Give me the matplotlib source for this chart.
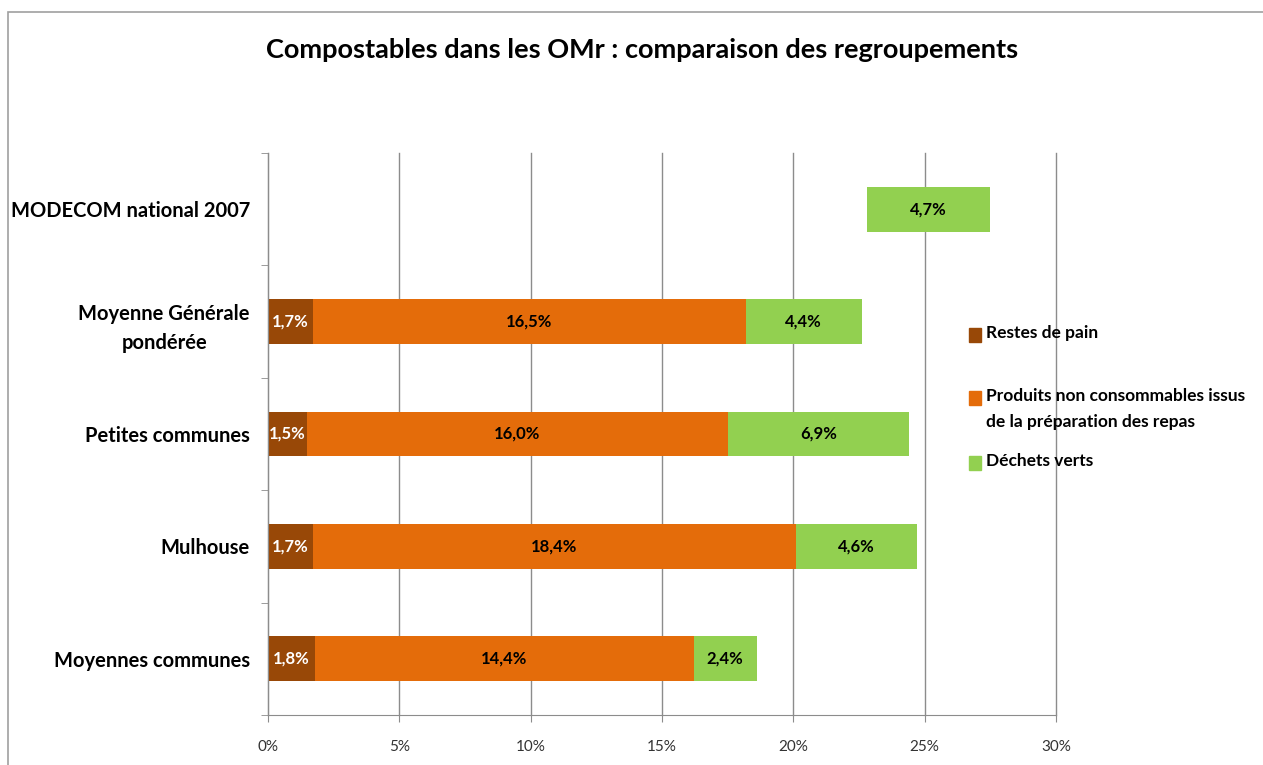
import matplotlib
matplotlib.use("Agg")
import matplotlib.pyplot as plt
from matplotlib.patches import Rectangle

plt.rcParams['font.family'] = ['Lato', 'DejaVu Sans']

# data (bottom -> top)
categories = ["Moyennes communes", "Mulhouse", "Petites communes",
              "Moyenne Générale\npondérée", "MODECOM national 2007"]
pain = [1.8, 1.7, 1.5, 1.7, 0.0]
produits = [14.4, 18.4, 16.0, 16.5, 0.0]
non_detaille = [0.0, 0.0, 0.0, 0.0, 22.8]   # segment non représenté (MODECOM)
dechets_verts = [2.4, 4.6, 6.9, 4.4, 4.7]
xticks = [0, 5, 10, 15, 20, 25, 30]
series_names = ["Restes de pain",
                "Produits non consommables issus\nde la préparation des repas",
                "Déchets verts"]

c_pain = "#984807"
c_prod = "#E46C0A"
c_vert = "#92D050"
grid_col = "#8C8C8C"
W, H = 1263, 765

fig = plt.figure(figsize=(W / 100, H / 100), dpi=100)
ax = fig.add_axes([268 / W, 1 - 715 / H, 788 / W, 562 / H])

# chart frame (cropped on right/bottom)
fig.patches.append(Rectangle((8 / W, -0.05), 1.2, 1 - 12 / H + 0.05,
                             transform=fig.transFigure, fill=False,
                             edgecolor="#A0A0A0", lw=1.2))

y = list(range(len(categories)))
h = 0.4
ax.set_axisbelow(True)

left = [0.0] * len(y)
b1 = ax.barh(y, pain, height=h, left=left, color=c_pain)
left = [l + v for l, v in zip(left, pain)]
b2 = ax.barh(y, produits, height=h, left=left, color=c_prod)
left = [l + v for l, v in zip(left, produits)]
ax.barh(y, non_detaille, height=h, left=left, color="none")
left = [l + v for l, v in zip(left, non_detaille)]
b3 = ax.barh(y, dechets_verts, height=h, left=left, color=c_vert)

def fmt(v):
    return f"{v:.1f}".replace(".", ",") + "%"

for bars, vals, col in [(b1, pain, "white"), (b2, produits, "black"), (b3, dechets_verts, "black")]:
    for rect, v in zip(bars, vals):
        if v > 0:
            ax.text(rect.get_x() + rect.get_width() / 2, rect.get_y() + rect.get_height() / 2,
                    fmt(v), ha="center", va="center", color=col,
                    fontsize=12, fontweight="bold")

ax.set_xlim(0, 30)
ax.set_ylim(-0.5, len(categories) - 0.5)
ax.set_xticks(xticks)
ax.set_xticklabels([f"{t}%" for t in xticks], fontsize=11, color="#333333")
ax.set_yticks(y)
ax.set_yticklabels(categories, fontsize=14.5, fontweight="bold", linespacing=1.6)
ax.set_yticks([i - 0.5 for i in range(len(categories) + 1)], minor=True)
ax.tick_params(axis="y", which="major", length=0, pad=13)
ax.tick_params(axis="y", which="minor", length=5, color=grid_col, direction="out")
ax.tick_params(axis="x", length=5, color=grid_col, pad=13)
for t in ax.get_yticklabels():
    t.set_multialignment("center")

ax.grid(axis="x", color=grid_col, lw=1)
for gl in ax.get_xgridlines():
    gl.set_clip_on(False)
for s in ["top", "right"]:
    ax.spines[s].set_visible(False)
for s in ["left", "bottom"]:
    ax.spines[s].set_color(grid_col)

# legend (markers aligned with first text line, as in the original)
leg_y = [335, 398, 463]
for name, col, yy in zip(series_names, [c_pain, c_prod, c_vert], leg_y):
    fig.patches.append(Rectangle((969 / W, 1 - (yy + 7) / H), 12 / W, 14 / H,
                                 transform=fig.transFigure, color=col))
    fig.text(986 / W, 1 - (yy - 10) / H, name, ha="left", va="top",
             fontsize=12.5, fontweight="bold", linespacing=1.75)

fig.text(642 / W, 1 - 50 / H, "Compostables dans les OMr : comparaison des regroupements",
         ha="center", va="center", fontsize=19.5, fontweight="bold")

fig.savefig("out.png", dpi=100)
